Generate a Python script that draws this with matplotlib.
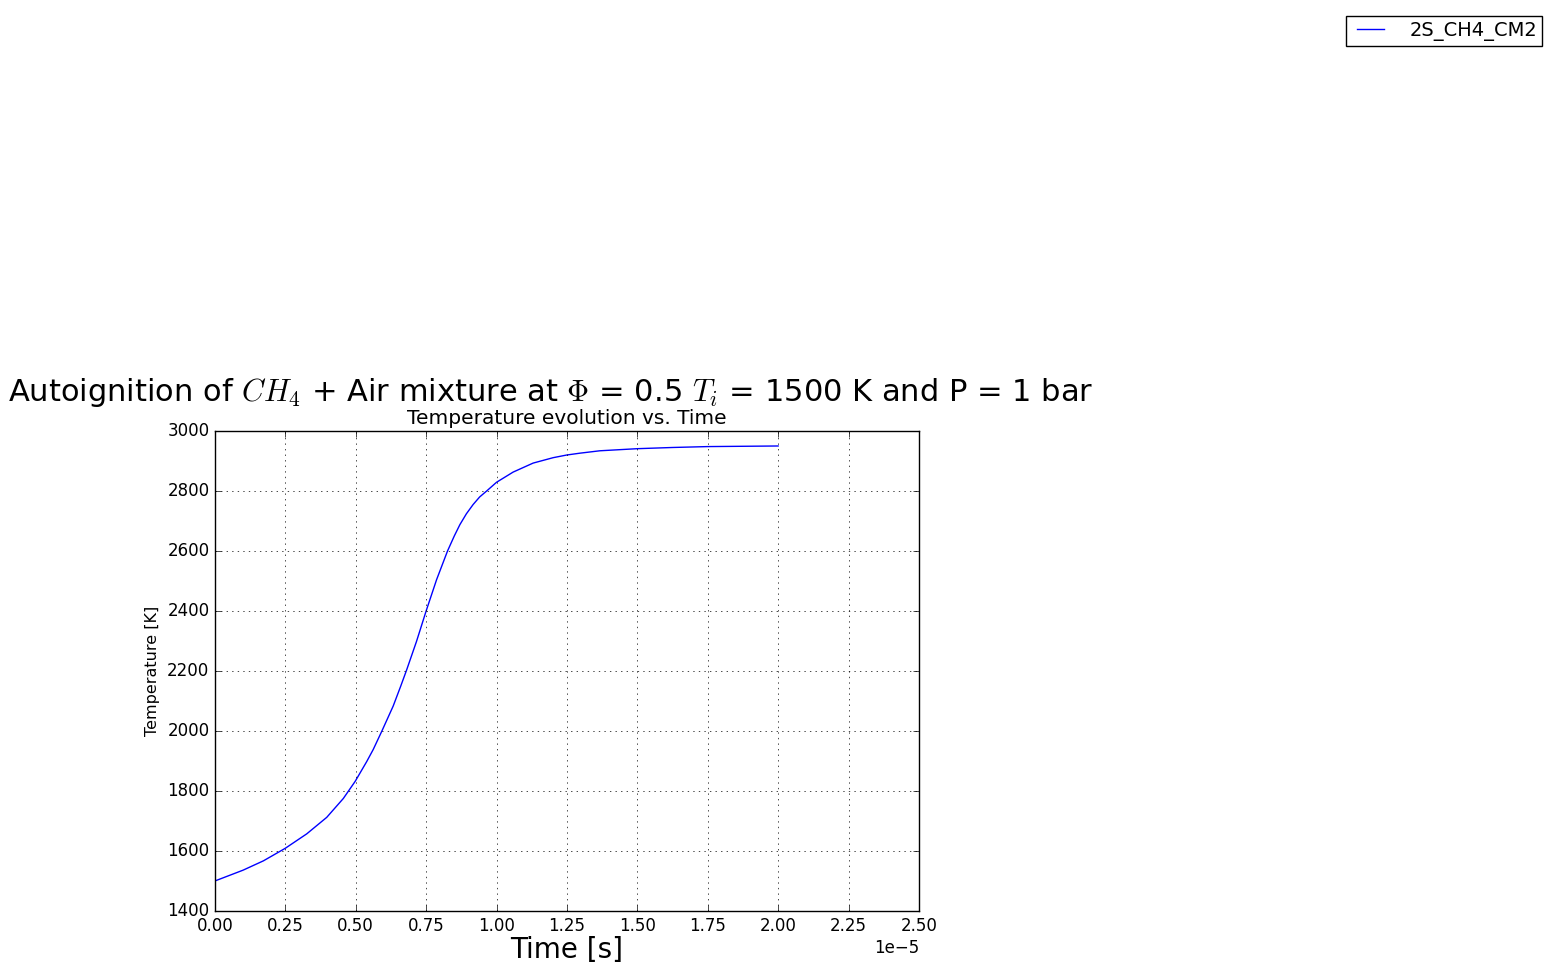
import matplotlib
matplotlib.use("Agg")
import matplotlib.pyplot as plt

plt.style.use("classic")

# time in units of 1e-5 s
time_e5 = [0.0, 0.1, 0.172, 0.25, 0.326, 0.397, 0.456, 0.498, 0.539, 0.562,
           0.593, 0.633, 0.660, 0.681, 0.716, 0.75, 0.787, 0.826, 0.850, 0.870,
           0.893, 0.917, 0.940, 0.965, 1.0, 1.059, 1.130, 1.201, 1.25, 1.296,
           1.367, 1.5, 1.625, 1.75, 1.875, 2.0]
temperature = [1500, 1536, 1567, 1609, 1657, 1712, 1775, 1832, 1898, 1938,
               2000, 2083, 2150, 2204, 2299, 2400, 2504, 2600, 2650, 2688,
               2724, 2755, 2780, 2800, 2829, 2863, 2893, 2911, 2920, 2926,
               2934, 2941, 2945, 2948, 2949, 2950]
series_label = "2S_CH4_CM2"

time = [t * 1e-5 for t in time_e5]

fig = plt.figure(figsize=(15.53, 9.72), dpi=100, facecolor="white")
ax = fig.add_axes([0.1384, 0.0628, 0.4533, 0.4938])
ax.plot(time, temperature, color="b", linewidth=1.0, label=series_label)
ax.set_xlim(0, 2.5e-5)
ax.set_ylim(1400, 3000)
ax.set_xticks([i * 0.25e-5 for i in range(11)])
ax.ticklabel_format(style="sci", axis="x", scilimits=(0, 0))
ax.grid(True)
ax.tick_params(labelsize=12)
ax.xaxis.get_offset_text().set_fontsize(12)
ax.set_xlabel("Time [s]", fontsize=20, labelpad=1)
ax.set_ylabel("Temperature [K]", fontsize=11.5)
ax.set_title("Temperature evolution vs. Time", fontsize=14.5)
fig.suptitle(r"Autoignition of $CH_4$ + Air mixture at $\Phi$ = 0.5 $T_i$ = 1500 K and P = 1 bar",
             fontsize=22, x=0.3545, y=0.613)
fig.legend(loc="upper right", fontsize=14, borderpad=0.25, borderaxespad=0,
           handletextpad=1.0, bbox_to_anchor=(0.99292, 0.98354))
fig.savefig("out.png", dpi=100, facecolor="white")
